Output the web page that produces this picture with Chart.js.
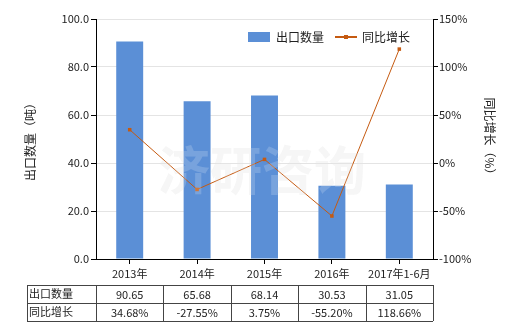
<!DOCTYPE html>
<html>
<head>
<meta charset="utf-8">
<script src="https://cdn.jsdelivr.net/npm/chart.js@4/dist/chart.umd.min.js"></script>
<style>
  html, body { margin: 0; padding: 0; background: #fff; }
  canvas { display: block; }
</style>
</head>
<body>
<canvas id="chart" width="520" height="330"></canvas>
<script>
// data
var categories = ['2013年', '2014年', '2015年', '2016年', '2017年1-6月'];
var exportQty = [90.65, 65.68, 68.14, 30.53, 31.05];
var growth = [34.68, -27.55, 3.75, -55.20, 118.66];
var qtyLabels = ['90.65', '65.68', '68.14', '30.53', '31.05'];
var growthLabels = ['34.68%', '-27.55%', '3.75%', '-55.20%', '118.66%'];

var barColor = '#5b8fd6';
var lineColor = '#c55a11';
var textColor = '#222';
var font = '"Noto Sans CJK SC", "Microsoft YaHei", sans-serif';

// draws legend, axis titles, watermark and the data table
var extras = {
	id: 'extras',
	beforeDatasetsDraw: function(chart) {
		var ctx = chart.ctx;
		ctx.save();
		ctx.font = 'bold 52px ' + font;
		ctx.fillStyle = 'rgba(200,200,200,0.22)';
		ctx.textAlign = 'center';
		ctx.textBaseline = 'middle';
		ctx.fillText('济研咨询', 262, 170);
		ctx.restore();
	},
	afterDraw: function(chart) {
		var ctx = chart.ctx;
		var x = chart.scales.x;
		ctx.save();

		// watermark over the bars too
		ctx.font = 'bold 52px ' + font;
		ctx.fillStyle = 'rgba(255,255,255,0.18)';
		ctx.textAlign = 'center';
		ctx.textBaseline = 'middle';
		ctx.fillText('济研咨询', 262, 170);

		// legend
		ctx.font = '12px ' + font;
		ctx.textAlign = 'left';
		ctx.fillStyle = barColor;
		ctx.fillRect(248, 32, 22, 10);
		ctx.fillStyle = textColor;
		ctx.fillText('出口数量', 276, 37);
		ctx.strokeStyle = lineColor;
		ctx.lineWidth = 2;
		ctx.beginPath();
		ctx.moveTo(335, 37);
		ctx.lineTo(357, 37);
		ctx.stroke();
		ctx.fillStyle = lineColor;
		ctx.fillRect(344, 35, 4, 4);
		ctx.fillStyle = textColor;
		ctx.fillText('同比增长', 362, 37);

		// axis titles
		ctx.font = '12px ' + font;
		ctx.textAlign = 'center';
		ctx.save();
		ctx.translate(30, 139);
		ctx.rotate(-Math.PI / 2);
		ctx.fillText('出口数量（吨）', 0, 0);
		ctx.restore();
		ctx.save();
		ctx.translate(490, 139);
		ctx.rotate(Math.PI / 2);
		ctx.fillText('同比增长（%）', 0, 0);
		ctx.restore();

		// table
		var left = 27;
		var top = 285;
		var rowH = 18;
		var edges = [left, x.left];
		for (var i = 0; i < categories.length; i++) {
			var c = x.getPixelForValue(i);
			var next = i < categories.length - 1 ? x.getPixelForValue(i + 1) : x.right;
			edges.push(i < categories.length - 1 ? (c + next) / 2 : x.right);
		}
		ctx.strokeStyle = '#444';
		ctx.lineWidth = 1;
		ctx.beginPath();
		for (var r = 0; r <= 2; r++) {
			ctx.moveTo(left, top + r * rowH + 0.5);
			ctx.lineTo(x.right, top + r * rowH + 0.5);
		}
		for (var e = 0; e < edges.length; e++) {
			var ex = Math.round(edges[e]) + 0.5;
			ctx.moveTo(ex, top);
			ctx.lineTo(ex, top + 2 * rowH);
		}
		ctx.stroke();

		ctx.font = '11px ' + font;
		ctx.fillStyle = textColor;
		ctx.textBaseline = 'middle';
		ctx.textAlign = 'left';
		ctx.fillText('出口数量', left + 2, top + rowH / 2);
		ctx.fillText('同比增长', left + 2, top + rowH * 1.5);
		ctx.textAlign = 'center';
		for (var j = 0; j < categories.length; j++) {
			var cx = (edges[j + 1] + edges[j + 2]) / 2;
			ctx.fillText(qtyLabels[j], cx, top + rowH / 2 + 1);
			ctx.fillText(growthLabels[j], cx, top + rowH * 1.5 + 1);
		}
		ctx.restore();
	}
};

new Chart(document.getElementById('chart'), {
	type: 'bar',
	data: {
		labels: categories,
		datasets: [{
			type: 'line',
			label: '同比增长',
			data: growth,
			yAxisID: 'y1',
			borderColor: lineColor,
			backgroundColor: lineColor,
			borderWidth: 1,
			pointStyle: 'rect',
			pointRadius: 2.5,
			pointBorderWidth: 0,
			tension: 0,
			order: 0
		}, {
			label: '出口数量',
			data: exportQty,
			yAxisID: 'y',
			backgroundColor: barColor,
			barPercentage: 0.4,
			categoryPercentage: 1,
			order: 1
		}]
	},
	options: {
		responsive: false,
		animation: false,
		layout: { padding: { top: 19, left: 0, right: 0, bottom: 0 } },
		plugins: {
			legend: { display: false },
			tooltip: { enabled: false }
		},
		scales: {
			x: {
				grid: { display: true, drawOnChartArea: false, offset: false, tickLength: 5, tickColor: '#000' },
				border: { color: '#000' },
				ticks: { color: textColor, font: { family: font, size: 11 }, padding: 3, maxRotation: 0 },
				afterFit: function(s) { s.height = 71; }
			},
			y: {
				position: 'left',
				min: 0,
				max: 100,
				ticks: {
					stepSize: 20,
					color: textColor,
					font: { family: font, size: 11 },
					padding: 2,
					callback: function(v) { return v.toFixed(1); }
				},
				grid: { color: '#e4e4e4', tickColor: '#000', tickLength: 5 },
				border: { color: '#000' },
				afterFit: function(s) { s.width = 96; }
			},
			y1: {
				position: 'right',
				min: -100,
				max: 150,
				ticks: {
					stepSize: 50,
					color: textColor,
					font: { family: font, size: 11 },
					padding: 1,
					callback: function(v) { return v + '%'; }
				},
				grid: { drawOnChartArea: false, tickColor: '#000', tickLength: 5 },
				border: { color: '#000' },
				afterFit: function(s) { s.width = 87; }
			}
		}
	},
	plugins: [extras]
});
</script>
</body>
</html>
